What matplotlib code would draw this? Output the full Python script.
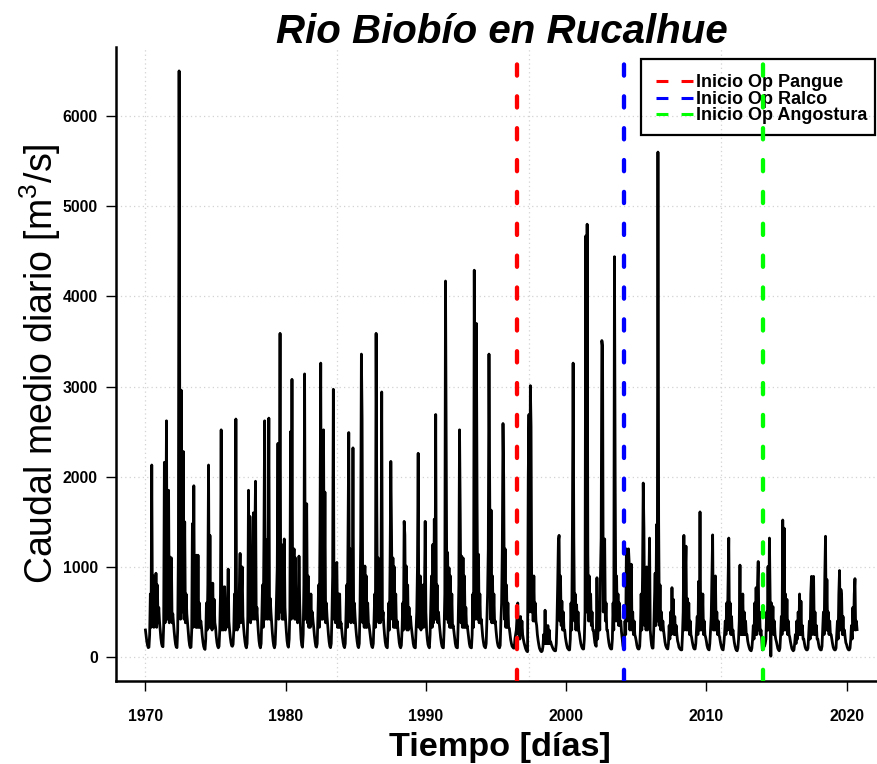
import matplotlib
matplotlib.use("Agg")
import matplotlib.pyplot as plt
from matplotlib import font_manager
from matplotlib.patches import Rectangle
import numpy as np

# ---------------------------------------------------------------------------
# Caudal medio diario, río Biobío en Rucalhue [m3/s]
# 20 lecturas por año (cada 0.05 año), una fila por año
# ---------------------------------------------------------------------------
PASO = 0.05

caudal_1970s = [
    300, 230, 170, 130, 105, 110, 250, 700, 330, 2130, 380, 900, 330, 860, 380, 930, 330, 800, 380, 550,        # 1970
    400, 300, 210, 150, 120, 115, 350, 2160, 380, 1100, 2620, 420, 1400, 1850, 380, 1110, 420, 1100, 380, 480,  # 1971
    380, 280, 200, 140, 110, 105, 300, 1200, 6500, 2400, 420, 2960, 500, 1400, 2280, 420, 1500, 380, 700, 480,  # 1972
    380, 280, 190, 130, 105, 110, 300, 1480, 330, 1900, 380, 1000, 330, 1130, 330, 1130, 330, 600, 330, 400,    # 1973
    330, 240, 170, 120, 95, 85, 200, 600, 300, 800, 2130, 330, 1350, 330, 780, 300, 820, 330, 640, 380,         # 1974
    330, 230, 160, 120, 103, 120, 300, 700, 2520, 300, 780, 300, 700, 780, 300, 640, 330, 550, 976, 400,        # 1975
    300, 220, 160, 125, 120, 140, 300, 700, 300, 2640, 420, 300, 700, 330, 800, 1150, 380, 700, 1000, 450,      # 1976
    330, 240, 170, 120, 103, 150, 450, 1850, 420, 1560, 380, 1200, 420, 1000, 1600, 420, 1300, 1950, 420, 550,  # 1977
    400, 280, 180, 125, 103, 150, 450, 800, 330, 1300, 2620, 420, 1100, 1300, 420, 1000, 2650, 420, 650, 500,   # 1978
    380, 270, 180, 125, 103, 140, 350, 700, 1000, 2370, 420, 1300, 3590, 500, 1250, 420, 1000, 420, 1310, 550,  # 1979
]

caudal_1980s = [
    400, 280, 180, 125, 110, 200, 500, 2500, 420, 3080, 500, 900, 1200, 420, 1100, 420, 700, 380, 450, 1120,    # 1980
    600, 350, 200, 130, 110, 250, 800, 3140, 420, 1200, 1700, 380, 900, 330, 580, 330, 700, 380, 500, 400,      # 1981
    330, 240, 170, 120, 110, 150, 450, 800, 330, 1400, 3260, 420, 1300, 420, 2520, 500, 1830, 380, 600, 450,    # 1982
    350, 250, 170, 120, 105, 150, 450, 900, 2970, 420, 800, 380, 1000, 1050, 330, 700, 330, 700, 330, 380,      # 1983
    300, 220, 160, 120, 105, 150, 450, 800, 330, 1400, 2490, 420, 1200, 380, 1100, 420, 2320, 380, 600, 450,    # 1984
    330, 240, 170, 120, 105, 150, 500, 1300, 3360, 2650, 380, 1000, 330, 1010, 330, 900, 330, 600, 380, 350,    # 1985
    280, 210, 150, 115, 105, 150, 400, 700, 330, 3590, 1680, 420, 1100, 380, 1000, 380, 900, 2940, 420, 500,    # 1986
    350, 250, 170, 125, 110, 103, 300, 600, 300, 1100, 2170, 1380, 420, 1100, 330, 1000, 330, 700, 330, 400,    # 1987
    320, 230, 160, 120, 103, 130, 300, 600, 300, 1505, 1355, 330, 1010, 300, 800, 300, 550, 330, 450, 350,      # 1988
    280, 210, 150, 115, 105, 103, 300, 500, 1000, 2260, 330, 700, 900, 300, 600, 330, 800, 330, 700, 1505,      # 1989
]

caudal_1990s = [
    500, 300, 200, 140, 115, 103, 250, 600, 900, 330, 1250, 380, 1530, 420, 2690, 420, 800, 380, 500, 380,      # 1990
    300, 220, 160, 120, 105, 103, 300, 700, 4170, 2300, 420, 1160, 380, 990, 330, 900, 330, 700, 330, 350,      # 1991
    280, 200, 150, 115, 105, 103, 350, 800, 2520, 1590, 380, 1120, 330, 1100, 330, 900, 330, 550, 330, 350,     # 1992
    280, 200, 150, 115, 105, 103, 250, 700, 330, 4290, 1500, 420, 3700, 1740, 420, 1140, 380, 700, 380, 420,    # 1993
    320, 230, 170, 125, 110, 103, 150, 400, 700, 1200, 3360, 1940, 420, 1630, 380, 900, 380, 700, 380, 400,     # 1994
    300, 220, 160, 125, 110, 103, 130, 400, 600, 1200, 2590, 1980, 420, 1200, 330, 800, 330, 600, 330, 320,     # 1995
    250, 190, 150, 120, 110, 100, 100, 200, 250, 300, 450, 600, 250, 400, 200, 450, 250, 400, 250, 200,         # 1996
    160, 130, 100, 80, 65, 60, 2000, 2690, 500, 3010, 2560, 500, 800, 400, 900, 400, 600, 400, 350, 250,        # 1997
    190, 140, 100, 80, 65, 60, 70, 120, 250, 150, 520, 150, 200, 150, 350, 150, 300, 150, 170, 140,             # 1998
    120, 100, 85, 75, 70, 70, 150, 400, 800, 1290, 1350, 400, 900, 350, 620, 300, 500, 300, 300, 220,           # 1999
]

caudal_2000s = [
    170, 130, 100, 90, 80, 80, 200, 600, 300, 1440, 3260, 1320, 400, 700, 300, 580, 300, 500, 300, 260,         # 2000
    200, 150, 120, 100, 90, 90, 200, 500, 4670, 500, 4800, 1140, 400, 900, 400, 700, 350, 500, 300, 300,        # 2001
    230, 160, 130, 120, 880, 200, 350, 600, 300, 900, 1320, 3510, 3440, 500, 900, 1310, 400, 600, 300, 300,     # 2002
    220, 160, 120, 100, 90, 90, 200, 600, 300, 4440, 1940, 400, 900, 400, 700, 350, 600, 350, 400, 280,         # 2003
    200, 130, 90, 150, 400, 250, 1200, 400, 1000, 1200, 1040, 300, 700, 1030, 300, 500, 250, 400, 250, 220,     # 2004
    180, 130, 100, 90, 90, 120, 300, 700, 300, 900, 1930, 1430, 350, 900, 300, 1000, 300, 600, 800, 1320,       # 2005
    300, 200, 130, 100, 100, 300, 600, 930, 350, 1470, 400, 5600, 1500, 350, 800, 300, 500, 300, 400, 300,      # 2006
    230, 170, 130, 110, 95, 90, 150, 350, 200, 500, 250, 770, 300, 640, 250, 450, 250, 350, 250, 180,           # 2007
    150, 110, 95, 85, 80, 80, 250, 500, 1350, 300, 900, 1230, 300, 650, 300, 600, 250, 400, 250, 220,           # 2008
    170, 130, 100, 90, 90, 150, 300, 450, 250, 840, 300, 1610, 300, 700, 300, 700, 250, 400, 250, 220,          # 2009
]

caudal_2010s = [
    180, 130, 100, 85, 80, 150, 300, 450, 900, 1355, 300, 800, 300, 900, 300, 500, 250, 400, 250, 220,          # 2010
    170, 130, 100, 85, 80, 150, 250, 400, 250, 600, 300, 785, 1320, 300, 600, 250, 450, 250, 300, 220,          # 2011
    160, 120, 90, 75, 70, 100, 200, 400, 1020, 250, 600, 250, 700, 250, 500, 250, 400, 250, 250, 180,           # 2012
    140, 110, 85, 75, 70, 100, 200, 350, 200, 600, 250, 770, 250, 800, 1060, 300, 500, 250, 300, 200,           # 2013
    80, 150, 150, 120, 150, 200, 500, 300, 1005, 300, 1320, 700, 10, 600, 300, 560, 250, 400, 250, 200,         # 2014
    170, 130, 95, 80, 70, 100, 250, 450, 250, 1520, 300, 1430, 300, 700, 300, 640, 250, 400, 250, 220,          # 2015
    170, 130, 95, 80, 70, 80, 150, 250, 150, 400, 200, 500, 250, 700, 250, 620, 250, 350, 200, 200,             # 2016
    150, 110, 90, 80, 80, 100, 250, 400, 200, 700, 895, 250, 700, 895, 250, 500, 250, 350, 200, 200,            # 2017
    150, 110, 90, 80, 80, 120, 300, 500, 250, 900, 1340, 300, 860, 300, 500, 250, 400, 250, 250, 200,           # 2018
    150, 110, 90, 80, 80, 100, 250, 400, 200, 700, 960, 300, 750, 670, 250, 450, 250, 300, 220, 160,            # 2019
]

caudal_2020s = [
    140, 110, 90, 80, 80, 100, 200, 350, 200, 550, 300, 700, 870, 300, 400, 305,                                # 2020
]

# Inicio de operación de las centrales (año decimal)
centrales = ["Inicio Op Pangue", "Inicio Op Ralco", "Inicio Op Angostura"]
inicio_op = [1996.48, 2004.15, 2014.02]
colores_op = ["#FF0000", "#0000FF", "#00FF00"]

anios_eje = [1970, 1980, 1990, 2000, 2010, 2020]
caudal_eje = [0, 1000, 2000, 3000, 4000, 5000, 6000]
# malla cada 5000 días desde 1970-01-01
malla_dias = [0, 5000, 10000, 15000]

# ---------------------------------------------------------------------------
W, H = 877, 764
fig = plt.figure(figsize=(W / 100, H / 100), dpi=100)

L_PX, R_PX, T_PX, B_PX = 116, 883, 47, 681
ax = fig.add_axes([L_PX / W, 1 - B_PX / H, (R_PX - L_PX) / W, (B_PX - T_PX) / H])
ax.set_xlim(1967.9, 2022.6)
ax.set_ylim(-265, 6765)

nombres = {f.name for f in font_manager.fontManager.ttflist}
NARROW = "Liberation Sans Narrow" in nombres
SANS = "Liberation Sans"

plt.rcParams["mathtext.fontset"] = "custom"
plt.rcParams["mathtext.rm"] = SANS
plt.rcParams["mathtext.it"] = SANS + ":italic"

q = np.array(caudal_1970s + caudal_1980s + caudal_1990s + caudal_2000s
             + caudal_2010s + caudal_2020s, dtype=float)
t = 1970.0 + PASO * np.arange(q.size)

# malla punteada
for d in malla_dias:
    ax.axvline(1970 + d / 365.25, color="#d3d3d3", lw=0.9, ls=(0, (1, 2.5)), zorder=1)
for v in caudal_eje:
    ax.axhline(v, color="#d3d3d3", lw=0.9, ls=(0, (1, 2.5)), zorder=1)

ax.plot(t, q, color="black", lw=2.0, zorder=3, solid_joinstyle="round")

for x, c in zip(inicio_op, colores_op):
    ax.axvline(x, color=c, lw=3.1, ls=(0, (2.6, 4.8)), dash_capstyle="round", zorder=5)

# ejes
for s in ["top", "right"]:
    ax.spines[s].set_visible(False)
for s in ["left", "bottom"]:
    ax.spines[s].set_linewidth(1.8)
ax.set_xticks(anios_eje)
ax.set_yticks(caudal_eje)
tick_font = dict(family=SANS, weight="bold", size=11.3)
ax.set_xticklabels([str(a) for a in anios_eje], **tick_font)
ax.set_yticklabels([str(v) for v in caudal_eje], **tick_font)
ax.tick_params(axis="x", direction="out", length=7, width=1.0, pad=13)
ax.tick_params(axis="y", direction="out", length=7, width=1.0, pad=6)


def ax_frac(px, py):
    return ((px - L_PX) / (R_PX - L_PX), (B_PX - py) / (B_PX - T_PX))


# leyenda
x0, y0 = ax_frac(641, 135)
x1, y1 = ax_frac(875, 59)
ax.add_patch(Rectangle((x0, y0), x1 - x0, y1 - y0, transform=ax.transAxes,
                       fill=False, ec="black", lw=1.6, zorder=4, clip_on=False))
for i, (nombre, c) in enumerate(zip(centrales, colores_op)):
    ly = 81 + i * 16.6
    a0 = ax_frac(656, ly)
    a1 = ax_frac(694, ly)
    ax.plot([a0[0], a1[0]], [a0[1], a1[1]], transform=ax.transAxes, color=c,
            lw=2.2, ls=(0, (3.9, 4.3)), zorder=4, clip_on=False)
    tx = ax_frac(695.5, ly + 6.2)
    ax.text(tx[0], tx[1], nombre, transform=ax.transAxes, ha="left", va="baseline",
            family=SANS, weight="bold", size=13, zorder=4)

# títulos
fig.text(502 / W, 1 - 43 / H, "Rio Biobío en Rucalhue", ha="center", va="baseline",
         family=SANS, weight="bold", style="italic", size=29)
if NARROW:
    fig.text(500 / W, 1 - 756 / H, "Tiempo [días]", ha="center", va="baseline",
             family="Liberation Sans Narrow", weight="bold", size=29.5)
else:
    fig.text(500 / W, 1 - 756 / H, "Tiempo [días]", ha="center", va="baseline",
             family=SANS, weight="bold", size=24.7)
fig.text(40 / W, 1 - 364 / H, r"Caudal medio diario [m$^3$/s]", ha="center",
         va="center", rotation=90, family=SANS, size=27)

fig.savefig("out.png", dpi=100)
